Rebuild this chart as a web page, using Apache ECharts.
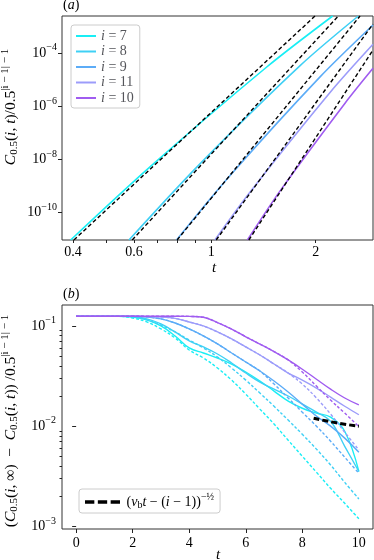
<!DOCTYPE html>
<html><head><meta charset="utf-8">
<script src="https://cdn.jsdelivr.net/npm/echarts@6/dist/echarts.min.js"></script>
<style>html,body{margin:0;padding:0;background:#fff}#c{width:374px;height:560px}</style>
</head><body><div id="c"></div>
<script>
// ---------- DATA: panel (a) ----------
const seriesNamesI = ['7', '8', '9', '11', '10'];
const aSolid7  = [[0.394, 9.3e-12], [0.668, 5.4e-9], [1.446, 3.05e-5], [2.239, 2.54e-3]];
const aDash7   = [[0.4026, 9.3e-12], [1.992, 2.54e-3]];
const aSolid8  = [[0.580, 9.3e-12], [0.93, 7.0e-9], [1.804, 3.44e-5], [2.654, 2.54e-3]];
const aDash8   = [[0.5926, 9.3e-12], [2.324, 2.54e-3]];
const aSolid9  = [[0.795, 9.3e-12], [1.134, 2.49e-9], [2.059, 1.29e-5], [2.925, 1.16e-3]];
const aDash9   = [[0.798, 9.3e-12], [2.684, 2.54e-3]];
const aSolid11 = [[1.025, 9.3e-12], [1.295, 6.0e-10], [2.2, 3.35e-6], [2.925, 2.18e-4]];
const aDash11  = [[1.034, 9.3e-12], [2.925, 1.26e-3]];
const aSolid10 = [[1.272, 9.3e-12], [1.58, 6.6e-10], [2.43, 1.32e-6], [2.925, 2.72e-5]];
const aDash10  = [[1.284, 9.3e-12], [2.925, 1.33e-4]];
const aXLabels = [0.4, 0.6, 1, 2];
const aXTicks  = [0.4, 0.5, 0.6, 0.7, 0.8, 0.9, 1, 2];
const aYLabels = [1e-10, 1e-8, 1e-6, 1e-4];

// ---------- DATA: panel (b) ----------
const tB = [0, 1, 1.5, 2, 2.5, 3, 3.5, 4, 4.5, 5, 5.5, 6, 6.5, 7, 7.5, 8, 8.5, 9, 9.5, 10];
const bSolid7  = [0.125,0.125,0.125,0.123,0.1148,0.1,0.0794,0.0603,0.0537,0.0479,0.0417,0.0347,0.0282,0.0224,0.0178,0.0151,0.0135,0.0123,0.0089,0.00353];
const bDash7   = [0.125,0.125,0.125,0.12,0.1096,0.0933,0.0759,0.0575,0.0479,0.038,0.0288,0.0209,0.0148,0.0105,0.00724,0.00501,0.00347,0.0024,0.0017,0.00119];
const bSolid8  = [0.125,0.125,0.125,0.124,0.1175,0.1047,0.0871,0.0708,0.0617,0.0525,0.0427,0.0339,0.0275,0.0234,0.02,0.0166,0.0138,0.0112,0.0063,0.00353];
const bDash8   = [0.125,0.125,0.125,0.124,0.115,0.102,0.0871,0.0724,0.0603,0.049,0.038,0.0288,0.0214,0.0158,0.0115,0.0083,0.0059,0.0041,0.00275,0.00188];
const bSolid9  = [0.125,0.125,0.125,0.125,0.123,0.1175,0.107,0.0933,0.0794,0.0661,0.0537,0.0437,0.0355,0.0282,0.0219,0.0166,0.0126,0.010,0.0076,0.0055];
const bDash9   = [0.125,0.125,0.125,0.125,0.123,0.1175,0.107,0.0933,0.0794,0.0661,0.0537,0.0437,0.0355,0.0263,0.0191,0.0138,0.010,0.00708,0.0049,0.00339];
const bSolid11 = [0.125,0.125,0.125,0.125,0.124,0.123,0.119,0.1096,0.1,0.0871,0.0741,0.0617,0.0513,0.0417,0.0339,0.0288,0.0240,0.0195,0.0158,0.0130];
const bDash11  = [0.125,0.125,0.125,0.125,0.124,0.123,0.119,0.1096,0.1,0.0871,0.0741,0.0617,0.0513,0.0417,0.0339,0.0263,0.0191,0.0132,0.0087,0.0058];
const bSolid10 = [0.125,0.125,0.125,0.125,0.125,0.125,0.125,0.1245,0.122,0.108,0.093,0.078,0.066,0.0555,0.0458,0.0370,0.0294,0.0234,0.0191,0.0163];
const bDash10  = [0.125,0.125,0.125,0.125,0.125,0.125,0.125,0.1245,0.122,0.108,0.093,0.078,0.066,0.0555,0.0458,0.0347,0.0251,0.0182,0.0135,0.0099];
const bAsymT = [8.4, 9.2, 10];
const bAsymV = [0.0120, 0.0108, 0.0100];
const bXLabels = [0, 2, 4, 6, 8, 10];
const bYLabels = [0.001, 0.01, 0.1];
const bYMinor = [0.002,0.003,0.004,0.005,0.006,0.007,0.008,0.009,0.02,0.03,0.04,0.05,0.06,0.07,0.08,0.09];

// ---------- STYLE ----------
const colors = {'7':'#19eef5','8':'#3fd0f5','9':'#5cacf7','11':'#9c9cfa','10':'#a05cf0'};
const F = 'Liberation Serif';
function mkRich(fs, ss, lh){
  return {
    it:{fontFamily:F,fontStyle:'italic',fontSize:fs,lineHeight:lh,color:'#000'},
    n:{fontFamily:F,fontSize:fs,lineHeight:lh,color:'#000'},
    b:{fontFamily:F,fontSize:fs,lineHeight:lh,color:'#000'},
    sub:{fontFamily:F,fontSize:ss,padding:[Math.round(fs*0.45),0,0,0],color:'#000'},
    sup:{fontFamily:F,fontSize:ss,verticalAlign:'top',color:'#000'},
    s:{fontFamily:F,fontSize:ss,verticalAlign:'top',color:'#000'}
  };
}
const richTick = mkRich(14, 10, 21);
const richName = mkRich(15.5, 11, 22);
const richLeg = mkRich(14, 10, 20);
const supTxt = s => s.replace(/-/g,'−');
function powLabel(v){
  const e = Math.log10(v); const r = Math.round(e);
  if (Math.abs(e-r) > 1e-6) return '';
  return '{b|10}{s|' + supTxt(String(r)) + '}';
}
const zip = (t, v) => t.map((x,i)=>[x, v[i]]);

const series = [];
const aSolids = {'7':aSolid7,'8':aSolid8,'9':aSolid9,'11':aSolid11,'10':aSolid10};
const aDashes = {'7':aDash7,'8':aDash8,'9':aDash9,'11':aDash11,'10':aDash10};
const bSolids = {'7':bSolid7,'8':bSolid8,'9':bSolid9,'11':bSolid11,'10':bSolid10};
const bDashes = {'7':bDash7,'8':bDash8,'9':bDash9,'11':bDash11,'10':bDash10};
seriesNamesI.forEach(k=>{
  series.push({name:'i'+k,type:'line',xAxisIndex:0,yAxisIndex:0,data:aSolids[k],smooth:0.3,
    symbol:'none',color:colors[k],lineStyle:{width:1.6,color:colors[k]},z:2});
});
seriesNamesI.forEach(k=>{
  series.push({name:'ad'+k,type:'line',xAxisIndex:0,yAxisIndex:0,data:aDashes[k],
    symbol:'none',color:'#000',lineStyle:{width:1.4,color:'#000',type:[4,2.5]},z:3});
});
seriesNamesI.forEach(k=>{
  series.push({name:'bs'+k,type:'line',xAxisIndex:1,yAxisIndex:1,data:zip(tB,bSolids[k]),smooth:0.4,
    symbol:'none',color:colors[k],lineStyle:{width:1.4,color:colors[k]},z:2});
  series.push({name:'bd'+k,type:'line',xAxisIndex:1,yAxisIndex:1,data:zip(tB,bDashes[k]),smooth:0.4,
    symbol:'none',color:colors[k],lineStyle:{width:1.4,color:colors[k],type:[3,2]},z:2});
});
series.push({name:'asym',type:'line',xAxisIndex:1,yAxisIndex:1,data:zip(bAsymT,bAsymV),smooth:true,
  symbol:'none',color:'#000',lineStyle:{width:3,color:'#000',type:[6,3]},z:4});

const tickLab = {fontFamily:F,fontSize:14,color:'#000'};
const option = {
  animation:false,
  backgroundColor:'#fff',
  grid:[
    {left:62,top:16,width:311,height:224,show:true,borderColor:'#333',borderWidth:1,backgroundColor:'transparent'},
    {left:62,top:305,width:311,height:224,show:true,borderColor:'#333',borderWidth:1,backgroundColor:'transparent'}
  ],
  xAxis:[
    {gridIndex:0,type:'log',logBase:10,min:0.372,max:2.925,position:'bottom',axisLine:{show:false},
     axisTick:{show:true,length:3,customValues:aXTicks,lineStyle:{color:'#222'}},
     axisLabel:{customValues:aXLabels,margin:5,...tickLab,formatter:v=>String(+v.toPrecision(3))},
     splitLine:{show:false}},
    {gridIndex:1,type:'value',min:-0.5,max:10.5,position:'bottom',axisLine:{show:false},
     axisTick:{show:true,length:4,customValues:bXLabels,lineStyle:{color:'#222'}},
     axisLabel:{customValues:bXLabels,margin:7,...tickLab},splitLine:{show:false}}
  ],
  yAxis:[
    {gridIndex:0,type:'log',logBase:10,min:9.3e-12,max:2.54e-3,position:'left',axisLine:{show:false},
     axisTick:{show:true,length:4,customValues:aYLabels,lineStyle:{color:'#222'}},
     axisLabel:{customValues:aYLabels,margin:5,formatter:powLabel,rich:richTick},splitLine:{show:false}},
    {gridIndex:1,type:'log',logBase:10,min:9.42e-4,max:0.1618,position:'left',axisLine:{show:false},
     axisTick:{show:true,length:4,customValues:bYLabels,lineStyle:{color:'#222'}},
     axisLabel:{customValues:bYLabels,margin:6,formatter:powLabel,rich:richTick},splitLine:{show:false}},
    {gridIndex:1,type:'log',logBase:10,min:9.42e-4,max:0.1618,position:'left',offset:0,axisLine:{show:false},
     axisTick:{show:true,length:2.5,customValues:bYMinor,lineStyle:{color:'#222',width:1}},
     axisLabel:{show:true,customValues:bYMinor,formatter:()=>''},splitLine:{show:false}}
  ],
  legend:[
    {data:seriesNamesI.map(k=>'i'+k),orient:'vertical',left:71,top:25,padding:[4,6,3,5],
     itemGap:1.5,itemWidth:20,itemHeight:2,icon:'rect',borderColor:'#ccc',borderWidth:1,borderRadius:3,
     backgroundColor:'#fff',selectedMode:false,
     formatter:n=>'{it|i}{n| = '+n.slice(1)+'}',
     textStyle:{rich:{it:{fontFamily:F,fontStyle:'italic',fontSize:14,lineHeight:14},n:{fontFamily:F,fontSize:14,lineHeight:14}}}},
    {data:['asym'],left:79,top:489,padding:[3,6,3,6],itemWidth:38,itemHeight:3.5,
     icon:'path://M0,0h8v3h-8z M11,0h8v3h-8z M22,0h8v3h-8z',
     borderColor:'#ccc',borderWidth:1,borderRadius:3,backgroundColor:'#fff',selectedMode:false,
     formatter:()=>'{n|(}{it|v}{sub|b}{it|t}{n| − (}{it|i}{n| − 1))}{sup|−½}',
     textStyle:{rich:richLeg}}
  ],
  graphic:[
    {type:'text',left:63,top:-2,style:{text:'{n|(}{it|a}{n|)}',rich:richTick}},
    {type:'text',left:63,top:287,style:{text:'{n|(}{it|b}{n|)}',rich:richTick}},
    {type:'text',x:214,y:268,style:{text:'t',font:'italic 15px "Liberation Serif"',align:'center',verticalAlign:'middle',fill:'#000'}},
    {type:'text',x:218,y:555,style:{text:'t',font:'italic 15px "Liberation Serif"',align:'center',verticalAlign:'middle',fill:'#000'}},
    {type:'text',x:11,y:107,rotation:Math.PI/2,style:{
      text:'{it|C}{sub|0.5}{n|(}{it|i}{n|, }{it|t}{n|)/0.5}{sup||i − 1| − 1}',rich:richName,align:'center',verticalAlign:'middle'}},
    {type:'text',x:11,y:421,rotation:Math.PI/2,style:{
      text:'{n|(}{it|C}{sub|0.5}{n|(}{it|i}{n|, ∞)  −  }{it|C}{sub|0.5}{n|(}{it|i}{n|, }{it|t}{n|)) /0.5}{sup||i − 1| − 1}',rich:richName,align:'center',verticalAlign:'middle'}}
  ],
  series:series
};
const chart = echarts.init(document.getElementById('c'),null,{renderer:'canvas'});
chart.setOption(option);
</script></body></html>
